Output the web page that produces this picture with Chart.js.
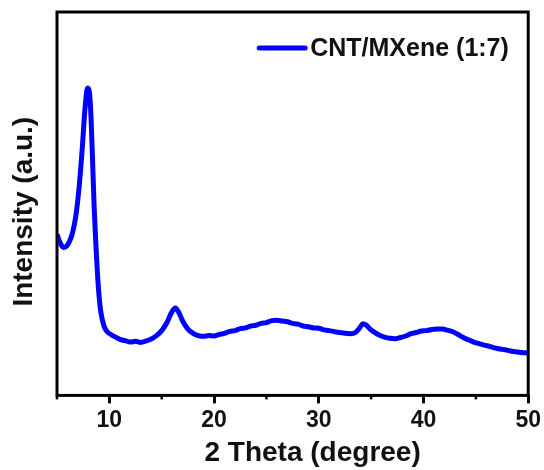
<!DOCTYPE html>
<html>

<head>
    <meta http-equiv="Content-Type" content="text/html; charset=UTF-8">
    <title>XRD CNT/MXene</title>
    <script src="https://cdn.jsdelivr.net/npm/chart.js@4.4.0/dist/chart.umd.min.js"></script>
    <style>
        body { margin: 0; background: #fff; }
    </style>
</head>

<body>
    <canvas id="xrdChart" width="544" height="470"></canvas>

    <script>
        // 2θ positions (degree) and measured intensity (arbitrary units)
        const twoTheta = [
            5.0, 5.3, 5.6, 5.9, 6.2, 6.5, 6.8, 7.1, 7.4, 7.65, 7.85, 7.95, 8.1, 8.25, 8.4, 8.55, 8.7, 8.85,
            9.0, 9.2, 9.5, 9.8, 10.2, 10.6, 11.0, 11.5, 12.0, 12.5, 13.0, 13.5, 14.0, 14.5, 15.0, 15.5,
            15.9, 16.3, 16.6, 17.0, 17.5, 18.0, 18.5, 19.0, 19.5, 20.0, 20.5, 21.0, 21.5, 22.0, 22.5,
            23.0, 23.5, 24.0, 24.5, 25.0, 25.5, 26.0, 26.5, 27.0, 27.5, 28.0, 28.5, 29.0, 29.5, 30.0,
            30.5, 31.0, 31.5, 32.0, 32.5, 33.0, 33.5, 33.9, 34.2, 34.5, 34.9, 35.3, 35.8, 36.3, 36.8,
            37.3, 37.8, 38.3, 38.8, 39.3, 39.8, 40.3, 40.8, 41.3, 41.8, 42.3, 42.8, 43.3, 43.8, 44.3,
            44.8, 45.3, 45.8, 46.3, 46.8, 47.3, 47.8, 48.3, 48.8, 49.3, 49.7, 50.0
        ];
        const intensity = [
            42.0, 39.8, 38.6, 38.9, 40.2, 42.6, 46.8, 54.0, 64.0, 74.0, 79.5, 80.2, 79.0, 72.5, 61.0, 49.0, 40.0, 32.5,
            26.5, 21.5, 18.0, 16.6, 15.8, 15.2, 14.6, 14.3, 13.9, 14.1, 13.8, 14.2, 14.7, 15.6, 16.9, 19.0,
            21.4, 22.8, 21.8, 19.4, 17.3, 16.2, 15.6, 15.4, 15.6, 15.5, 15.9, 16.2, 16.7, 16.9, 17.4,
            17.6, 18.1, 18.3, 18.8, 19.0, 19.5, 19.6, 19.4, 19.2, 18.8, 18.6, 18.1, 17.9, 17.6, 17.5,
            17.1, 16.9, 16.6, 16.4, 16.2, 16.1, 16.4, 17.6, 18.7, 18.4, 17.3, 16.5, 15.7, 15.2, 14.9,
            14.8, 15.1, 15.5, 16.1, 16.4, 16.8, 16.9, 17.2, 17.3, 17.3, 17.0, 16.6, 15.9, 15.1, 14.5,
            13.9, 13.5, 13.1, 12.8, 12.4, 12.1, 11.9, 11.6, 11.4, 11.2, 11.1, 11.0
        ];
        const majorTicks = [10, 20, 30, 40, 50];
        const minorTicks = [5, 15, 25, 35, 45];
        const seriesLabel = 'CNT/MXene (1:7)';
        const xTitle = '2 Theta (degree)';
        const yTitle = 'Intensity (a.u.)';

        const FONT = '"Liberation Sans", Arial, sans-serif';
        const LINE_COLOR = '#0000FF';

        // frame, minor ticks, axis titles and the legend entry
        const decorPlugin = {
            id: 'decor',
            afterDatasetsDraw(chart) {
                const { ctx, chartArea } = chart;
                const xs = chart.scales.x;
                const w = chartArea.right - chartArea.left;
                const h = chartArea.bottom - chartArea.top;
                ctx.save();
                ctx.strokeStyle = '#000';
                ctx.lineWidth = 3;
                ctx.strokeRect(chartArea.left, chartArea.top, w, h);

                ctx.lineWidth = 2.5;
                minorTicks.forEach(v => {
                    const px = xs.getPixelForValue(v);
                    ctx.beginPath();
                    ctx.moveTo(px, chartArea.bottom);
                    ctx.lineTo(px, chartArea.bottom + 4);
                    ctx.stroke();
                });

                ctx.fillStyle = '#111';
                ctx.font = 'bold 28px ' + FONT;
                ctx.textAlign = 'center';
                ctx.textBaseline = 'middle';
                ctx.fillText(xTitle, chartArea.left + w / 2 + 20, 453);

                ctx.save();
                ctx.translate(24, chartArea.top + h / 2 + 8);
                ctx.rotate(-Math.PI / 2);
                ctx.fillText(yTitle, 0, 0);
                ctx.restore();

                // legend: short line sample followed by the series name
                const ly = chartArea.top + 36;
                const lx = chartArea.right - 269;
                ctx.strokeStyle = LINE_COLOR;
                ctx.lineWidth = 5;
                ctx.lineCap = 'round';
                ctx.beginPath();
                ctx.moveTo(lx, ly);
                ctx.lineTo(lx + 46, ly);
                ctx.stroke();
                ctx.font = 'bold 25px ' + FONT;
                ctx.textAlign = 'left';
                ctx.fillText(chart.data.datasets[0].label, lx + 51, ly + 1);
                ctx.restore();
            }
        };

        const points = twoTheta.map((t, i) => ({ x: t, y: intensity[i] }));

        new Chart(document.getElementById('xrdChart'), {
            type: 'line',
            data: {
                datasets: [{
                    label: seriesLabel,
                    data: points,
                    borderColor: LINE_COLOR,
                    backgroundColor: LINE_COLOR,
                    borderWidth: 5,
                    pointRadius: 0,
                    cubicInterpolationMode: 'monotone'
                }]
            },
            options: {
                responsive: false,
                animation: false,
                layout: { padding: { left: 57, right: 10, top: 12, bottom: 33 } },
                plugins: {
                    tooltip: { enabled: false },
                    legend: { display: false }
                },
                scales: {
                    x: {
                        type: 'linear',
                        min: 5,
                        max: 50,
                        afterBuildTicks(scale) {
                            scale.ticks = majorTicks.map(v => ({ value: v }));
                        },
                        ticks: {
                            color: '#111',
                            padding: 3,
                            maxRotation: 0,
                            font: { family: FONT, size: 23, weight: 'bold' }
                        },
                        grid: {
                            display: true,
                            drawOnChartArea: false,
                            tickLength: 8,
                            tickWidth: 3,
                            tickColor: '#000'
                        },
                        border: { display: false }
                    },
                    y: {
                        display: false,
                        min: 0,
                        max: 100
                    }
                }
            },
            plugins: [decorPlugin]
        });
    </script>
</body>

</html>
